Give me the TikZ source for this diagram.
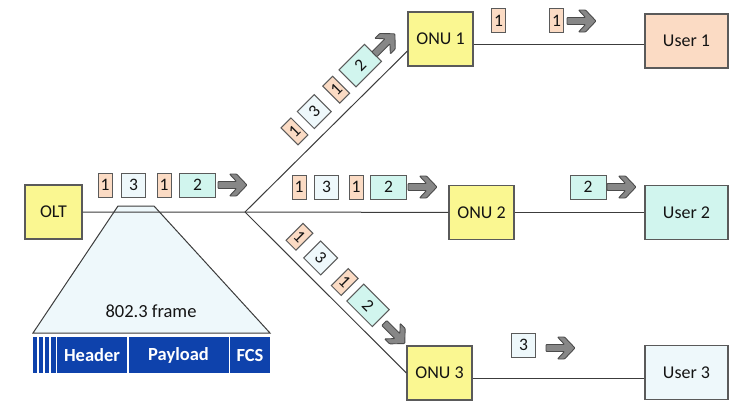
\documentclass[tikz,border=0pt]{standalone}
\usepackage{fontspec}
\setmainfont{Carlito}
\usepackage{tikz}
\usetikzlibrary{shapes.geometric, arrows}

\definecolor{onuyellow}{RGB}{250,247,145}
\definecolor{peach}{RGB}{251,219,196}
\definecolor{mint}{RGB}{209,245,238}
\definecolor{paleblue}{RGB}{238,248,251}
\definecolor{frameblue}{RGB}{14,66,172}
\definecolor{boxgray}{RGB}{90,90,90}
\definecolor{linegray}{RGB}{60,60,60}
\definecolor{arrowfill}{RGB}{135,135,135}
\definecolor{arrowline}{RGB}{75,75,75}
\definecolor{txt}{RGB}{20,20,20}

\tikzset{
  unit/.style={draw=boxgray, line width=1.2pt, minimum height=54pt, minimum width=65pt,
    inner sep=0pt, text=txt, font=\fontsize{18}{20}\selectfont},
  onubox/.style={unit, fill=onuyellow},
  userbox/.style={unit, minimum width=83pt},
  pkt/.style={draw=boxgray, line width=1pt, minimum height=24pt, inner sep=0pt,
    text=txt, font=\fontsize{17.5}{18}\selectfont},
  p1/.style={pkt, fill=peach, minimum width=14pt},
  p3/.style={pkt, fill=paleblue, minimum width=24pt},
  p2/.style={pkt, fill=mint, minimum width=36pt},
  link/.style={draw=linegray, line width=1pt},
  bartext/.style={text=white, font=\fontsize{18.5}{20}\selectfont\bfseries},
  flowarrow/.style={draw=arrowline, fill=arrowfill, line width=0.9pt, rounded corners=0.8pt},
  flow/.pic={
    \path[flowarrow] (0,-3.5) -- (18.5,-3.5) -- (11.5,-11) -- (18.5,-11) -- (29,0)
      -- (18.5,11) -- (11.5,11) -- (18.5,3.5) -- (0,3.5) -- cycle;
  }
}

\begin{document}
\begin{tikzpicture}[x=1pt, y=-1pt]
\useasboundingbox (0,0) rectangle (756,413);

% 802.3 frame under the OLT stream
\draw[draw=linegray, line width=1pt, fill=paleblue] (118,206) -- (154,206) -- (270,333) -- (33,333) -- cycle;
\node[text=txt, font=\fontsize{18.5}{20}\selectfont] (frm) at (151,311) {802.3 frame};
\fill[frameblue] (33,337) rectangle (270,373);
\foreach \x in {38,44,50,56.5,128,229.5}
  \draw[white, line width=1.5pt] (\x,337) -- (\x,373);
\node[bartext] (hdr) at (92,355) {Header};
\node[bartext] (pay) at (178.5,355) {Payload};
\node[bartext] (fcs) at (250,355) {FCS};

% units
\node[onubox, minimum width=57pt] (olt) at (53.5,212) {OLT};
\node[onubox] (onu1) at (440.5,39) {ONU 1};
\node[onubox] (onu2) at (481.5,212.5) {ONU 2};
\node[onubox] (onu3) at (439.5,373) {ONU 3};
\node[userbox, fill=peach] (user1) at (686.5,41) {User 1};
\node[userbox, fill=mint] (user2) at (686.5,212.5) {User 2};
\node[userbox, fill=paleblue] (user3) at (686.5,372.5) {User 3};

% fibre
\coordinate (split) at (245,212);
\draw[link] (olt) -- (split) -- (onu2);
\draw[link] (split) -- (onu1.200);
\draw[link] (split) -- (onu3.west);
\draw[link] (onu1.-10) -- (onu1.-10 -| user1.west);
\draw[link] (onu2) -- (user2);
\draw[link] (onu3.-10) -- (onu3.-10 -| user3.west);

% downstream from the OLT
\node[p1] (m1) at (105,185) {1};
\node[p3] (m3) at (133.5,185) {3};
\node[p1] (m1b) at (164,185) {1};
\node[p2] (m2) at (197.5,185) {2};
\pic at (218,185) {flow};

% towards ONU 2
\node[p1] (c1) at (299,187) {1};
\node[p3] (c3) at (326.5,187) {3};
\node[p1] (c1b) at (356,187) {1};
\node[p2] (c2) at (388.5,187) {2};
\pic at (408,187) {flow};

% towards ONU 1
\begin{scope}[shift={(split)}, rotate=45, transform shape]
  \node[p1] (u1) at (92,-22) {1};
  \node[p3] (u3) at (120,-22) {3};
  \node[p1] (u1b) at (151,-22) {1};
  \node[p2] (u2) at (185,-22) {2};
  \pic at (203,-20) {flow};
\end{scope}

% towards ONU 3
\begin{scope}[shift={(split)}, rotate=-45, transform shape]
  \node[p1] (d1) at (56,-21) {1};
  \node[p3] (d3) at (86,-21) {3};
  \node[p1] (d1b) at (120,-21) {1};
  \node[p2] (d2) at (153,-21) {2};
  \pic at (177,-20) {flow};
\end{scope}

% to the users
\node[p1] (r1) at (498.5,20.5) {1};
\node[p1] (r1b) at (556.5,20.5) {1};
\pic at (567,21) {flow};
\node[p2] (r2) at (588,187) {2};
\pic at (607,187) {flow};
\node[p3] (r3) at (523.5,345) {3};
\pic at (546,348) {flow};
\end{tikzpicture}
\end{document}
